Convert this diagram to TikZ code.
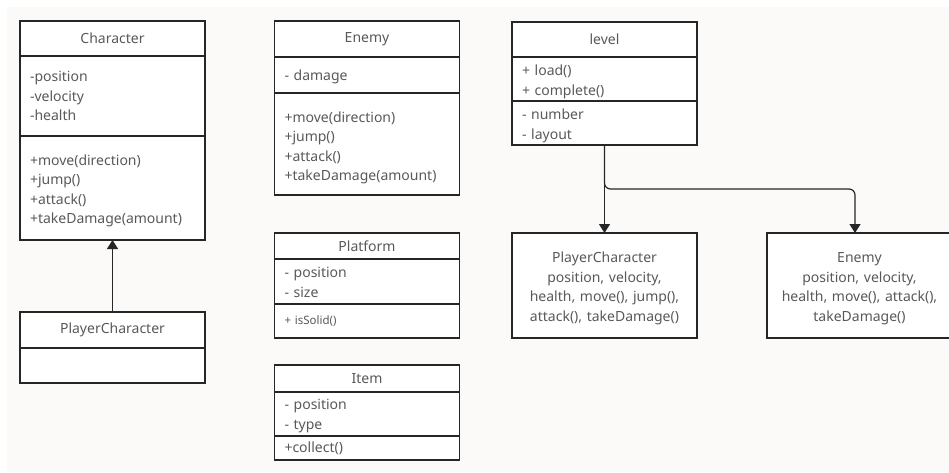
\documentclass[tikz,border=0pt]{standalone}
\usepackage{fontspec}
\setmainfont{Noto Sans}
\usepackage{xcolor}
\usepackage{tikz}
\usetikzlibrary{positioning,arrows.meta}

\definecolor{linec}{HTML}{262626}
\definecolor{txtc}{HTML}{595959}
\definecolor{paper}{HTML}{FBFAF9}

\begin{document}
\begin{tikzpicture}[
  x=1pt, y=-1pt,
  box/.style={draw=linec, line width=1.2pt, fill=white, text=txtc,
    font=\fontsize{14}{19.5}\selectfont, inner sep=0pt, outer sep=0pt},
  title/.style={box, minimum width=185pt, align=center},
  part/.style={box, minimum width=185pt, text width=165pt, inner xsep=10pt, align=left},
  note/.style={box, minimum width=185pt, minimum height=105pt, text width=175pt, align=center},
  drop/.style={execute at begin node={\rule{0pt}{#1}}},
  arr/.style={-{Triangle[width=11pt,length=9pt]}, line width=1.2pt, draw=linec}
]
  \useasboundingbox (0,0) rectangle (949,472);
  \fill[white] (0,0) rectangle (949,472);
  \fill[paper] (7,7) rectangle (949,472);

  % Character and its subclass
  \node[title, minimum height=35pt] (chr) at (112.5,38.5) {Character};
  \node[part, minimum height=80pt, below=0pt of chr] (chrattr) {-position\\-velocity\\-health};
  \node[part, minimum height=104pt, below=0pt of chrattr, drop=16.5pt] (chrops)
    {+move(direction)\\+jump()\\+attack()\\+takeDamage(amount)};

  \node[title, minimum height=36pt] (pc) at (112.5,330) {PlayerCharacter};
  \node[part, minimum height=35pt, below=0pt of pc] (pcbody) {};

  \draw[arr] (pc.north) -- (chrops.south);

  % middle column
  \node[title, minimum height=36pt] (enm) at (367,39) {Enemy};
  \node[part, minimum height=36pt, below=0pt of enm, drop=14.5pt] (enmattr) {- damage};
  \node[part, minimum height=102pt, below=0pt of enmattr, drop=18.5pt] (enmops)
    {+move(direction)\\+jump()\\+attack()\\+takeDamage(amount)};

  \node[title, minimum height=26pt] (plat) at (367,246) {Platform};
  \node[part, minimum height=45pt, below=0pt of plat, drop=12pt] (platattr) {- position\\- size};
  \node[part, minimum height=34pt, below=0pt of platattr, font=\fontsize{11.5}{14}\selectfont] (platops) {+ isSolid()};

  \node[title, minimum height=27pt] (itm) at (367,378.5) {Item};
  \node[part, minimum height=44pt, below=0pt of itm, drop=14pt] (itmattr) {- position\\- type};
  \node[part, minimum height=24pt, below=0pt of itmattr] (itmops) {+collect()};

  % level and what it holds
  \node[title, minimum height=35pt] (lvl) at (604.5,39.5) {level};
  \node[part, minimum height=44pt, below=0pt of lvl, drop=16pt] (lvlops) {+ load()\\+ complete()};
  \node[part, minimum height=44pt, below=0pt of lvlops, drop=16pt] (lvlattr) {- number\\- layout};

  \node[note, drop=16.5pt] (pcnote) at (604.5,285.5)
    {PlayerCharacter\\position, velocity,\\health, move(), jump(),\\attack(), takeDamage()};
  \node[note, drop=16.5pt] (ennote) at (859.5,285.5)
    {Enemy\\position, velocity,\\health, move(), attack(),\\takeDamage()};

  \coordinate (fork) at (604.5,189);
  \draw[arr] (lvlattr.south) -- (pcnote.north);
  \draw[arr, rounded corners=6pt] (lvlattr.south) -- (fork) -| ([xshift=-4.5pt]ennote.north);
\end{tikzpicture}
\end{document}
